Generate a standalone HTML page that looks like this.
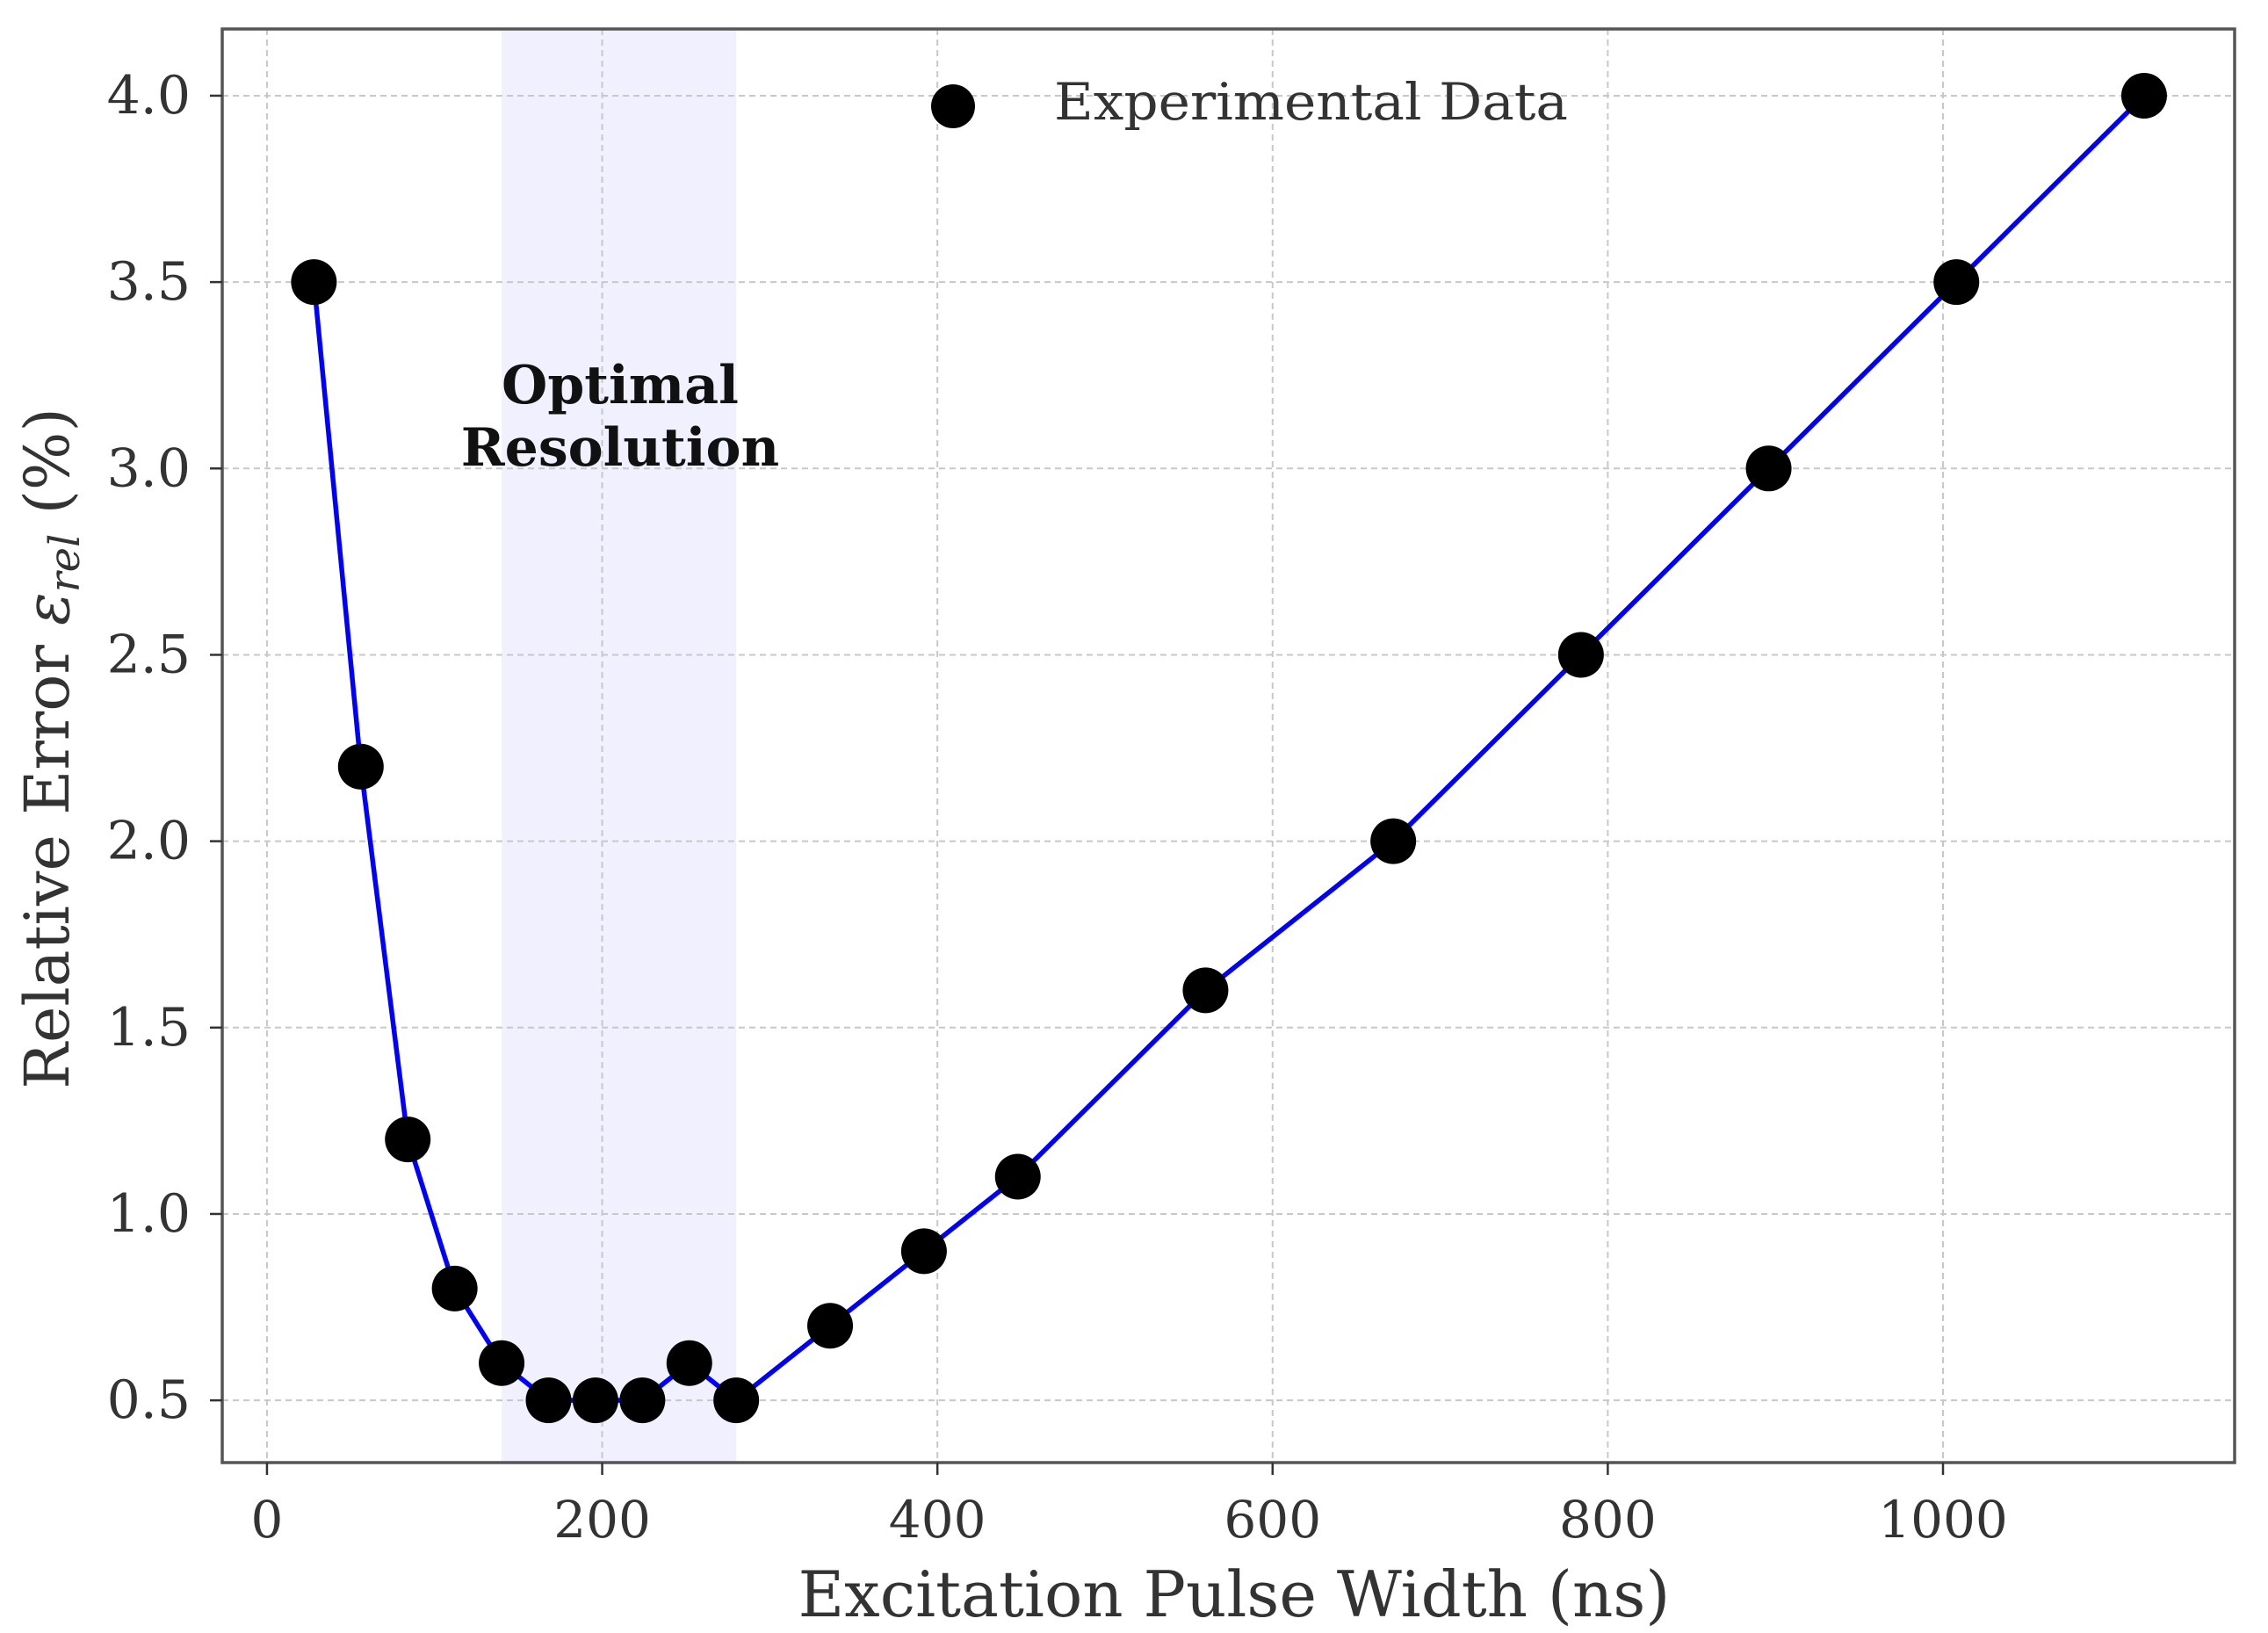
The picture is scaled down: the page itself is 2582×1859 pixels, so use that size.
<!DOCTYPE html>
<html><head><meta charset="utf-8"><style>
html,body{margin:0;padding:0;background:#fff;}
svg{display:block;font-family:"DejaVu Serif","Liberation Serif",serif;}
</style></head><body>
<svg id="chart" width="2582" height="1859" viewBox="0 0 2582 1859" xmlns="http://www.w3.org/2000/svg">
<rect x="0" y="0" width="2582" height="1859" fill="#fff"/>
<g id="plot"></g>
</svg>
<script>
const pulseWidths = [28,56,84,112,140,168,196,224,252,280,336,392,448,560,672,784,896,1008,1120];
const relErrors = [3.5,2.2,1.2,0.8,0.6,0.5,0.5,0.5,0.6,0.5,0.7,0.9,1.1,1.6,2.0,2.5,3.0,3.5,4.0];
const xTicks = [0,200,400,600,800,1000];
const yTicks = [0.5,1.0,1.5,2.0,2.5,3.0,3.5,4.0];
const yTickLabels = ["0.5","1.0","1.5","2.0","2.5","3.0","3.5","4.0"];
const optimalRange = [140,280];

const L=253,R=2544,T=33,B=1665;
const xMin=-26.7,xMax=1174,yMin=0.333,yMax=4.179;
const X=v=>L+(v-xMin)/(xMax-xMin)*(R-L);
const Y=v=>B-(v-yMin)/(yMax-yMin)*(B-T);
const NS="http://www.w3.org/2000/svg";
const g=document.getElementById('plot');
function mk(tag,attrs,parent){const e=document.createElementNS(NS,tag);for(const k in attrs)e.setAttribute(k,attrs[k]);(parent||g).appendChild(e);return e;}

let span=mk('rect',{x:X(optimalRange[0]),y:T,width:X(optimalRange[1])-X(optimalRange[0]),height:B-T,fill:'#0000ff','fill-opacity':0.06});



xTicks.forEach(t=>{
  let l=mk('line',{x1:X(t),x2:X(t),y1:T,y2:B,stroke:'#c8c8c8','stroke-width':2,'stroke-dasharray':'7,5'});
  
  
});
yTicks.forEach(t=>{
  let l=mk('line',{x1:L,x2:R,y1:Y(t),y2:Y(t),stroke:'#c8c8c8','stroke-width':2,'stroke-dasharray':'7,5'});
  
  
});

let pts=pulseWidths.map((x,i)=>X(x)+','+Y(relErrors[i])).join(' ');
let pl=mk('polyline',{points:pts,fill:'none',stroke:'#0000ff','stroke-width':5.5,'stroke-linejoin':'round'});



pulseWidths.forEach((x,i)=>{
  let c=mk('circle',{cx:X(x),cy:Y(relErrors[i]),r:26,fill:'#000'});
  
  
});

let sp=mk('rect',{x:L,y:T,width:R-L,height:B-T,fill:'none',stroke:'#555','stroke-width':3.5});



xTicks.forEach(t=>{
  let l=mk('line',{x1:X(t),x2:X(t),y1:B,y2:B+14,stroke:'#333','stroke-width':2.5});
  
  
  let tx=mk('text',{x:X(t),y:1750,'text-anchor':'middle','font-size':58,fill:'#333'});
  tx.textContent=String(t);
  
  
});
yTicks.forEach((t,i)=>{
  let l=mk('line',{x1:L-14,x2:L,y1:Y(t),y2:Y(t),stroke:'#333','stroke-width':2.5});
  
  
  let tx=mk('text',{x:217,y:Y(t)+20,'text-anchor':'end','font-size':60,fill:'#333'});
  tx.textContent=yTickLabels[i];
  
  
});
</script>
<svg style="position:absolute;left:0;top:0" width="2582" height="1859" xmlns="http://www.w3.org/2000/svg">
<text x="1405" y="1840" text-anchor="middle" font-size="72" fill="#333" font-family="DejaVu Serif, Liberation Serif, serif">Excitation Pulse Width (ns)</text>
<text transform="translate(78,852) rotate(-90)" text-anchor="middle" font-size="70" fill="#333" font-family="DejaVu Serif, Liberation Serif, serif">Relative Error <tspan font-style="italic">ε</tspan><tspan font-style="italic" font-size="48" dy="12">rel</tspan><tspan dy="-12"> (%)</tspan></text>
<text x="706" y="459" text-anchor="middle" font-size="60" font-weight="bold" fill="#111" font-family="DejaVu Serif, Liberation Serif, serif">Optimal</text>
<text x="706" y="530" text-anchor="middle" font-size="60" font-weight="bold" fill="#111" font-family="DejaVu Serif, Liberation Serif, serif">Resolution</text>
<circle cx="1085" cy="121" r="25" fill="#000"/>
<text x="1200" y="136" font-size="58" fill="#333" textLength="585" lengthAdjust="spacingAndGlyphs" font-family="DejaVu Serif, Liberation Serif, serif">Experimental Data</text>
</svg>
</body></html>
